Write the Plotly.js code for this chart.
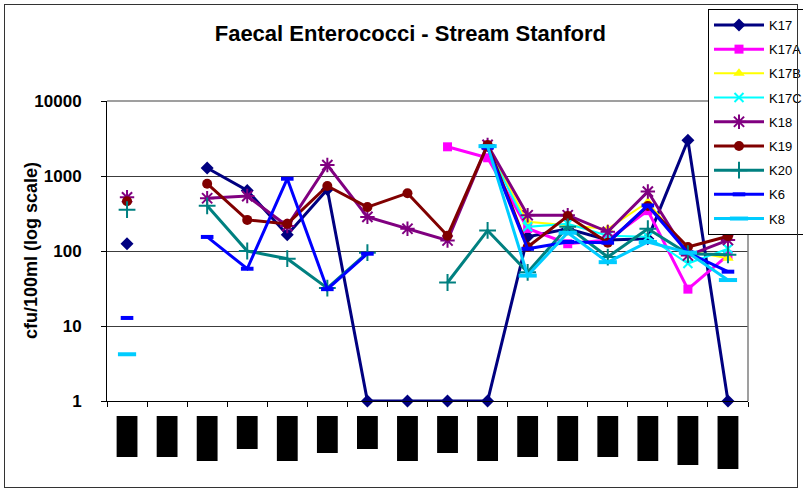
<!DOCTYPE html>
<html>
<head>
<meta charset="utf-8">
<script src="https://cdn.plot.ly/plotly-3.0.1.min.js"></script>
<style>
  html, body { margin: 0; padding: 0; background: #fff; }
  #wrap { position: relative; width: 803px; height: 490px; }
  #chart { width: 803px; height: 490px; }
  #frame { position: absolute; left: 4px; top: 4px; width: 792px; height: 482px;
           border: 1px solid #333; pointer-events: none; }
</style>
</head>
<body>
<div id="wrap">
  <div id="chart"></div>
  <div id="frame"></div>
</div>
<script>
// Sampling rounds (x axis categories)
const rounds = ['R1','R2','R3','R4','R5','R6','R7','R8','R9','R10','R11','R12','R13','R14','R15','R16'];

// Faecal enterococci counts, cfu/100ml (null = not sampled)
const K17  = [125, null, 1280, 640, 165, 660, 1, 1, 1, 1, 155, 198, 140, 146, 3000, 1];
const K17A = [null, null, null, null, null, null, null, null, 2450, 1750, 200, 125, 140, 345, 31, 88];
const K17B = [null, null, null, null, null, null, null, null, null, 2400, 245, 220, 197, 450, 100, 80];
const K17C = [null, null, null, null, null, null, null, null, null, 2350, 210, 230, 160, 155, 68, 107];
const K18  = [520, null, 505, 540, 215, 1400, 285, 198, 138, 2600, 300, 300, 180, 620, 87, 140];
const K19  = [460, null, 790, 260, 230, 735, 385, 590, 160, 2600, 113, 293, 129, 398, 113, 157];
const K20  = [356, null, 400, 100, 79, 32, 95, null, 38, 188, 52, 210, 83, 198, 92, 89];
const K6   = [12.8, null, 154, 58, 920, 31, 92, null, null, 2400, 107, 132, 129, 405, 95, 53];
const K8   = [4.2, null, null, null, null, null, null, null, null, 2500, 47, 175, 71, 132, 95, 41];

const yTicks = [1, 10, 100, 1000, 10000];
const yTickText = ['1', '10', '100', '1000', '10000'];
const yTitle = 'cfu/100ml (log scale)';

const FONT = 'Liberation Sans, Arial, sans-serif';

function series(name, y, color, symbol, size, lineW, mLineW) {
  return {
    type: 'scatter', mode: 'lines+markers', name: name,
    x: rounds, y: y, legendgroup: name, cliponaxis: false,
    line: { color: color, width: lineW },
    marker: { symbol: symbol, size: size, color: color,
              line: { color: color, width: mLineW } }
  };
}

const traces = [
  series('K17',  K17,  '#000080', 'diamond',     10, 3, 0),
  series('K17A', K17A, '#FF00FF', 'square',       9, 3, 0),
  series('K17B', K17B, '#FFFF00', 'triangle-up', 10, 2, 0),
  series('K17C', K17C, '#00FFFF', 'x-thin',       9, 2, 2),
  series('K18',  K18,  '#800080', 'asterisk',    12, 3, 2),
  series('K19',  K19,  '#800000', 'circle',      10, 3, 0),
  series('K20',  K20,  '#008080', 'cross-thin',  12, 3, 2),
  series('K6',   K6,   '#0000FF', 'line-ew',      9, 3, 4),
  series('K8',   K8,   '#00CCFF', 'line-ew',     13, 3, 4)
];

// Plot-area geometry (px) used to place the label blocks under each category
const plotW = 641;
const plotH = 300;
const blockTop = 15;
const blockHalf = 0.26;
const blockH = [41, 41, 45, 33, 45, 37, 33, 45, 37, 45, 41, 45, 41, 45, 49, 53];

const shapes = [
  // grey top/right frame of the plot area
  { type: 'path', xref: 'paper', yref: 'paper', path: 'M0,1 L1,1 L1,0',
    line: { color: '#808080', width: 1.5 }, layer: 'above' }
];
rounds.forEach(function (r, i) {
  shapes.push({
    type: 'rect', xref: 'x', yref: 'paper',
    x0: i - blockHalf, x1: i + blockHalf,
    y0: -blockTop / plotH, y1: -(blockTop + blockH[i]) / plotH,
    fillcolor: '#000', line: { width: 0 }
  });
});

const layout = {
  width: 803, height: 490,
  margin: { l: 107, r: 55, t: 101, b: 89, autoexpand: false },
  paper_bgcolor: '#fff', plot_bgcolor: '#fff',
  font: { family: FONT, color: '#000' },
  title: {
    text: 'Faecal Enterococci - Stream Stanford',
    font: { family: FONT, size: 22, weight: 'bold', color: '#000' },
    x: 0.511, xref: 'container', xanchor: 'center',
    y: 0.933, yref: 'container', yanchor: 'middle'
  },
  xaxis: {
    type: 'category', range: [-0.5, rounds.length - 0.5], showticklabels: false,
    tickson: 'boundaries', ticks: 'outside', ticklen: 5, tickcolor: '#000',
    showline: true, linecolor: '#000', linewidth: 1,
    showgrid: false, zeroline: false, fixedrange: true
  },
  yaxis: {
    type: 'log', range: [0, 4],
    tickvals: yTicks, ticktext: yTickText,
    ticks: 'outside', ticklen: 5, tickcolor: '#000',
    ticklabelstandoff: 16,
    tickfont: { family: FONT, size: 17, weight: 'bold', color: '#000' },
    showline: true, linecolor: '#000', linewidth: 1,
    showgrid: true, gridcolor: '#3c3c3c', gridwidth: 1,
    zeroline: false, fixedrange: true
  },
  annotations: [
    // vertical y-axis title, left of the tick labels
    { text: yTitle, xref: 'paper', yref: 'paper', x: -76 / plotW, y: 0.5,
      xanchor: 'center', yanchor: 'middle', textangle: -90, showarrow: false,
      font: { family: FONT, size: 18, weight: 'bold', color: '#000' } }
  ],
  showlegend: true,
  legend: {
    x: 0.9376, xanchor: 'left', y: 1.3067, yanchor: 'top',
    bgcolor: '#fff', bordercolor: '#000', borderwidth: 1,
    font: { family: FONT, size: 13, color: '#000' },
    traceorder: 'grouped', tracegroupgap: 4.3, itemwidth: 50
  },
  shapes: shapes
};

Plotly.newPlot('chart', traces, layout, { staticPlot: true, displayModeBar: false });
</script>
</body>
</html>
